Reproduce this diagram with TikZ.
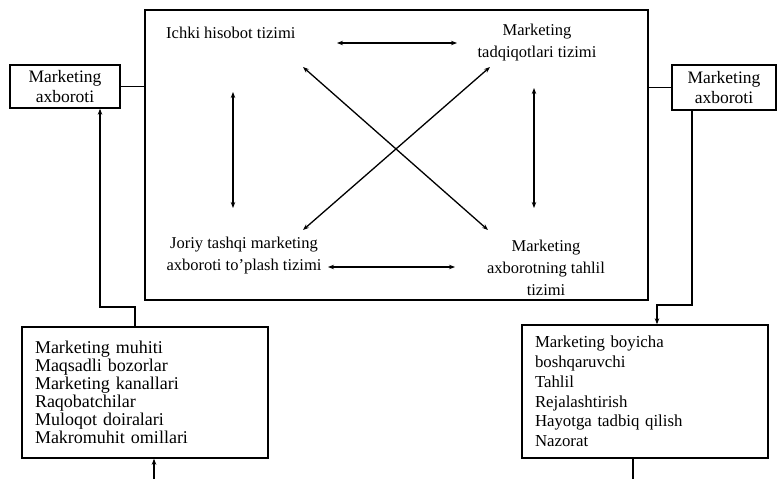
\documentclass[tikz,border=0pt]{standalone}
\usepackage{fontspec}
\setmainfont{Liberation Serif}
\usetikzlibrary{arrows.meta}

\begin{document}
\begin{tikzpicture}[x=1pt, y=-1pt,
    box/.style={draw, line width=1.4pt, inner sep=0pt},
    sub/.style={align=center, inner sep=0pt, font=\fontsize{16.5}{22}\selectfont},
    link/.style={line width=1.3pt},
    tip/.style={-{Stealth[length=6pt,width=4.5pt]}},
    both/.style={{Stealth[length=6pt,width=4.5pt]}-{Stealth[length=6pt,width=4.5pt]}}]
    \useasboundingbox (0,0) rectangle (780,479);
    \node[box, minimum width=503pt, minimum height=290pt] (mis) at (396.5,155) {};
    \node[box, minimum width=110pt, minimum height=43pt, align=center,
        font=\fontsize{17.5}{20}\selectfont] (infoL) at (65,86.5) {Marketing\\axboroti};
    \node[box, minimum width=104pt, minimum height=45pt, align=center,
        font=\fontsize{17.5}{20}\selectfont] (infoR) at (724,87.5) {Marketing\\axboroti};
    \node[box, text width=220pt, inner xsep=13pt, minimum height=131pt, align=left,
        font=\fontsize{18}{18}\selectfont] (envL) at (145,392.5)
        {Marketing muhiti\\Maqsadli bozorlar\\Marketing kanallari\\Raqobatchilar\\Muloqot doiralari\\Makromuhit omillari};
    \node[box, text width=220pt, inner xsep=13pt, minimum height=133pt, align=left,
        font=\fontsize{16.8}{19.8}\selectfont] (envR) at (645,391.5)
        {Marketing boyicha\\boshqaruvchi\\Tahlil\\Rejalashtirish\\Hayotga tadbiq qilish\\Nazorat};
    \node[sub, anchor=west] (ichki) at (166,33) {Ichki hisobot tizimi};
    \node[sub] (tadq) at (537,43) {Marketing\\tadqiqotlari tizimi};
    \node[sub] (joriy) at (244,256) {Joriy tashqi marketing\\axboroti to'plash tizimi};
    \node[sub] (tahlil) at (546,268) {Marketing\\axborotning tahlil\\tizimi};
    \coordinate (h1a) at (337,43);
    \coordinate (h1b) at (457,43);
    \coordinate (h2a) at (328,267);
    \coordinate (h2b) at (455,267);
    \coordinate (v1a) at (233,92);
    \coordinate (v1b) at (233,208);
    \coordinate (v2a) at (534,88);
    \coordinate (v2b) at (534,208);
    \coordinate (dtl) at (303,67);
    \coordinate (dtr) at (490,67);
    \coordinate (dbl) at (303,230);
    \coordinate (dbr) at (488,230);
    \draw[link, both] (h1a) -- (h1b);
    \draw[link, both] (h2a) -- (h2b);
    \draw[link, both] (v1a) -- (v1b);
    \draw[link, both] (v2a) -- (v2b);
    \draw[link, both] (dtl) -- (dbr);
    \draw[link, both] (dtr) -- (dbl);
    \draw[link] (infoL.east) -- (infoL.east -| mis.west);
    \draw[link] (infoR.west) -- (infoR.west -| mis.east);
    \coordinate (bendL) at (100,307);
    \coordinate (bendL2) at (135,307);
    \draw[link, tip] (envL.north -| bendL2) -- (bendL2) -- (bendL) -- (infoL.south -| bendL);
    \coordinate (bendR) at (692,305);
    \coordinate (bendR2) at (657,305);
    \draw[link, tip] (infoR.south -| bendR) -- (bendR) -- (bendR2) -- (envR.north -| bendR2);
    \coordinate (outL) at (154,479);
    \coordinate (outR) at (633,479);
    \draw[link, tip] (outL) -- (envL.south -| outL);
    \draw[link] (envR.south -| outR) -- (outR);
\end{tikzpicture}
\end{document}
